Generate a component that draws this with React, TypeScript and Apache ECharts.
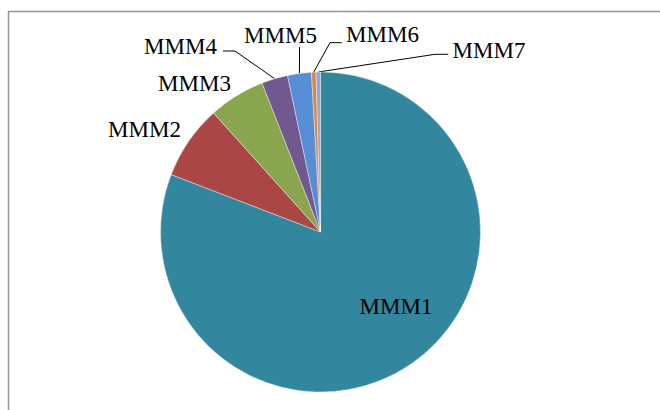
import React, { useEffect, useRef } from "react";
import * as echarts from "echarts";

const categories = ["MMM1", "MMM2", "MMM3", "MMM4", "MMM5", "MMM6", "MMM7"];
const values = [80.8, 7.5, 5.7, 2.65, 2.4, 0.45, 0.45];
const colors = ["#32869D", "#AA4643", "#89A54E", "#71588F", "#558ED5", "#DB843D", "#93A9CF"];

// label layout (centres of label text) and leader-line elbows
const LABEL_POS: number[][] = [
  [396, 306],
  [144.5, 129],
  [194.5, 83.5],
  [180.5, 46.5],
  [280.5, 35.5],
  [382.5, 34],
  [489, 50],
];
const LEADER: (number[][] | null)[] = [
  null,
  null,
  null,
  [[235, 51], [223, 51]],
  [[299.5, 47]],
  [[330, 42.7], [341.7, 42.7]],
  [[435, 54.3], [448.3, 54.3]],
];

const FONT = "Liberation Serif";

export default function App() {
  const ref = useRef<HTMLDivElement>(null);
  useEffect(() => {
    if (!ref.current) return;
    const chart = echarts.init(ref.current, undefined, { renderer: "svg" });
    chart.setOption({
      animation: false,
      color: colors,
      textStyle: { fontFamily: FONT },
      graphic: [
        {
          type: "rect",
          shape: { x: 8.5, y: 11.5, width: 720, height: 520 },
          style: { fill: "none", stroke: "#959595", lineWidth: 1.5 },
          silent: true,
        },
      ],
      series: [
        {
          type: "pie",
          center: [320.5, 232],
          radius: [0, 160],
          startAngle: 90,
          clockwise: true,
          avoidLabelOverlap: false,
          itemStyle: { borderColor: "#ffffff", borderWidth: 0.4 },
          label: {
            show: true,
            position: "outside",
            fontFamily: FONT,
            fontSize: 23,
            color: "#000000",
            formatter: "{b}",
          },
          labelLine: {
            show: true,
            length: 10,
            length2: 10,
            lineStyle: { color: "#000000", width: 1 },
          },
          labelLayout: (params: any) => {
            const i = params.dataIndex;
            const p = LABEL_POS[i];
            const out: any = {
              x: p[0],
              y: p[1],
              align: "center",
              verticalAlign: "middle",
              moveOverlap: false,
              hideOverlap: false,
            };
            const elb = LEADER[i];
            if (elb && params.labelLinePoints) {
              const start = params.labelLinePoints[0];
              out.labelLinePoints = [start, ...elb];
            }
            return out;
          },
          data: categories.map((name, i) => ({
            name,
            value: values[i],
            labelLine: { show: LEADER[i] !== null },
          })),
        },
      ],
    });
    return () => chart.dispose();
  }, []);
  return (
    <div
      ref={ref}
      style={{ position: "absolute", left: 0, top: 0, width: 660, height: 410 }}
    />
  );
}
